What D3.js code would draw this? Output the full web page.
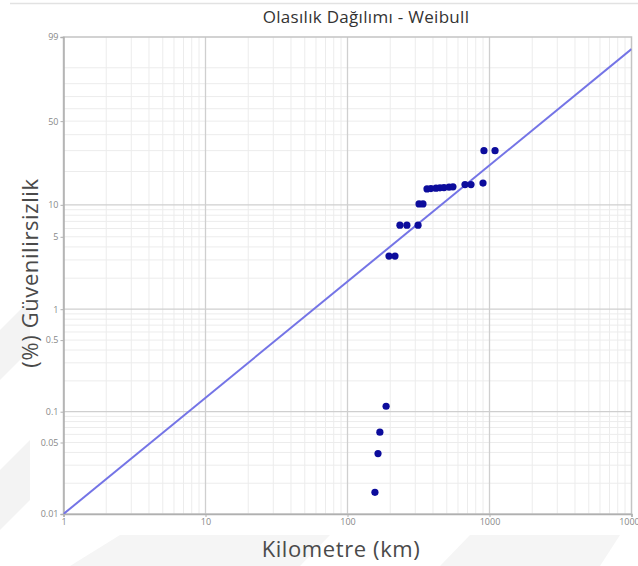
<!DOCTYPE html>
<html>
<head>
<meta charset="utf-8">
<script src="https://cdn.jsdelivr.net/npm/d3@7"></script>
<style>
  html, body { margin: 0; padding: 0; background: #fff; }
  svg { display: block; }
  text { font-family: "Open Sans", "Noto Sans", sans-serif; }
</style>
</head>
<body>
<svg id="chart" width="638" height="566"></svg>
<script>
// ---- data ----
const title = "Olasılık Dağılımı - Weibull";
const xTitle = "Kilometre (km)";
const yTitle = "(%) Güvenilirsizlik";

const kmValues = [156, 164, 169, 187, 196, 216, 234, 262, 314, 319, 340,
                  363, 387, 420, 448, 478, 519, 553, 672, 741, 900, 914, 1094];
const unreliabilityPct = [0.0163, 0.039, 0.063, 0.113, 3.27, 3.27, 6.45, 6.45, 6.45, 10.2, 10.2,
                  14.0, 14.1, 14.2, 14.3, 14.4, 14.5, 14.6, 15.3, 15.3, 15.8, 30, 30];

const fitKm = [1, 10000];
const fitPct = [0.01, 97];

const xTickValues = [1, 10, 100, 1000, 10000];
const xTickLabels = ["1", "10", "100", "1000", "10000"];
const yTickValues = [99, 50, 10, 5, 1, 0.5, 0.1, 0.05, 0.01];
const yTickLabels = ["99", "50", "10", "5", "1", "0.5", "0.1", "0.05", "0.01"];
const yMajorGrid = [10, 1, 0.1];
const yMinorGrid = [90, 80, 70, 60, 50, 40, 30, 20,
                    9, 8, 7, 6, 5, 4, 3, 2,
                    0.9, 0.8, 0.7, 0.6, 0.5, 0.4, 0.3, 0.2,
                    0.09, 0.08, 0.07, 0.06, 0.05, 0.04, 0.03, 0.02];
const xMajorGrid = [10, 100, 1000];

// ---- scales ----
const L = 63.5, R = 631.5, T = 37, B = 514;
const weib = p => Math.log(-Math.log(1 - p / 100));
const x = d3.scaleLog().domain([1, 10000]).range([L, R]);
const yLin = d3.scaleLinear().domain([weib(0.01), weib(99)]).range([B, T]);
const y = p => yLin(weib(p));

const svg = d3.select("#chart");

// faint top rule
svg.append("line").attr("x1", 10).attr("x2", 638).attr("y1", 3.5).attr("y2", 3.5)
  .attr("stroke", "#e2e2e2").attr("stroke-width", 1.5);

// faint watermark chevrons
const wm = svg.append("g").attr("fill", "#f3f3f3");
wm.append("path").attr("d", "M0,330 L30,300 L30,350 L0,380 Z");
wm.append("path").attr("d", "M0,470 L30,440 L30,500 L0,530 Z");
wm.append("path").attr("d", "M70,566 L120,535 L330,535 L300,566 Z").attr("fill", "#f5f5f5");
wm.append("path").attr("d", "M440,566 L470,535 L620,535 L600,566 Z").attr("fill", "#f5f5f5");

// grid
const grid = svg.append("g");
const xMinor = [];
for (let d = 1; d < 10000; d *= 10) for (let k = 2; k <= 9; k++) xMinor.push(d * k);
grid.selectAll(".xminor").data(xMinor).join("line")
  .attr("x1", d => x(d)).attr("x2", d => x(d)).attr("y1", T).attr("y2", B)
  .attr("stroke", "#ececec").attr("stroke-width", 1);
grid.selectAll(".yminor").data(yMinorGrid).join("line")
  .attr("x1", L).attr("x2", R).attr("y1", d => y(d)).attr("y2", d => y(d))
  .attr("stroke", "#ececec").attr("stroke-width", 1);
grid.selectAll(".xmajor").data(xMajorGrid).join("line")
  .attr("x1", d => x(d)).attr("x2", d => x(d)).attr("y1", T).attr("y2", B)
  .attr("stroke", "#cfcfcf").attr("stroke-width", 1.3);
grid.selectAll(".ymajor").data(yMajorGrid).join("line")
  .attr("x1", L).attr("x2", R).attr("y1", d => y(d)).attr("y2", d => y(d))
  .attr("stroke", "#cfcfcf").attr("stroke-width", 1.3);

// frame
svg.append("rect").attr("x", L).attr("y", T).attr("width", R - L).attr("height", B - T)
  .attr("fill", "none").attr("stroke", "#c4c4c4").attr("stroke-width", 1.5);

// axes
const xAxis = d3.axisBottom(x).tickValues(xTickValues)
  .tickFormat((d, i) => xTickLabels[i]).tickSize(3).tickPadding(2);
const gx = svg.append("g").attr("transform", `translate(0,${B})`).call(xAxis);
const yAxis = d3.axisLeft(yLin).tickValues(yTickValues.map(weib))
  .tickFormat((d, i) => yTickLabels[i]).tickSize(3).tickPadding(2);
const gy = svg.append("g").attr("transform", `translate(${L},0)`).call(yAxis);
[gx, gy].forEach(g => {
  g.select(".domain").attr("stroke", "#b0b0b0").attr("stroke-width", 1.5);
  g.selectAll(".tick line").attr("stroke", "#b0b0b0");
  g.selectAll(".tick text").attr("fill", "#888").attr("font-size", 9)
    .attr("font-family", "'Open Sans', sans-serif");
});

// fit line
const clipId = "plotclip";
svg.append("clipPath").attr("id", clipId).append("rect")
  .attr("x", L).attr("y", T).attr("width", R - L).attr("height", B - T);
const fitData = fitKm.map((k, i) => [k, fitPct[i]]);
svg.append("path").datum(fitData)
  .attr("clip-path", `url(#${clipId})`)
  .attr("d", d3.line().x(d => x(d[0])).y(d => y(d[1])))
  .attr("fill", "none").attr("stroke", "#7474e6").attr("stroke-width", 2);

// points
const pts = kmValues.map((k, i) => [k, unreliabilityPct[i]]);
svg.append("g").selectAll("circle").data(pts).join("circle")
  .attr("cx", d => x(d[0])).attr("cy", d => y(d[1])).attr("r", 3.6)
  .attr("fill", "#0c0c9c");

// titles
svg.append("text").attr("x", 366).attr("y", 23).attr("text-anchor", "middle")
  .attr("font-size", 17).attr("fill", "#333").attr("letter-spacing", 0.3).text(title);
svg.append("text").attr("x", 341).attr("y", 557).attr("text-anchor", "middle")
  .attr("font-size", 22).attr("fill", "#4a4a4a").attr("letter-spacing", 0.6).text(xTitle);
svg.append("text").attr("transform", "translate(38,273) rotate(-90)")
  .attr("text-anchor", "middle").attr("font-size", 22).attr("fill", "#4a4a4a")
  .attr("letter-spacing", 0.6).text(yTitle);
</script>
</body>
</html>
